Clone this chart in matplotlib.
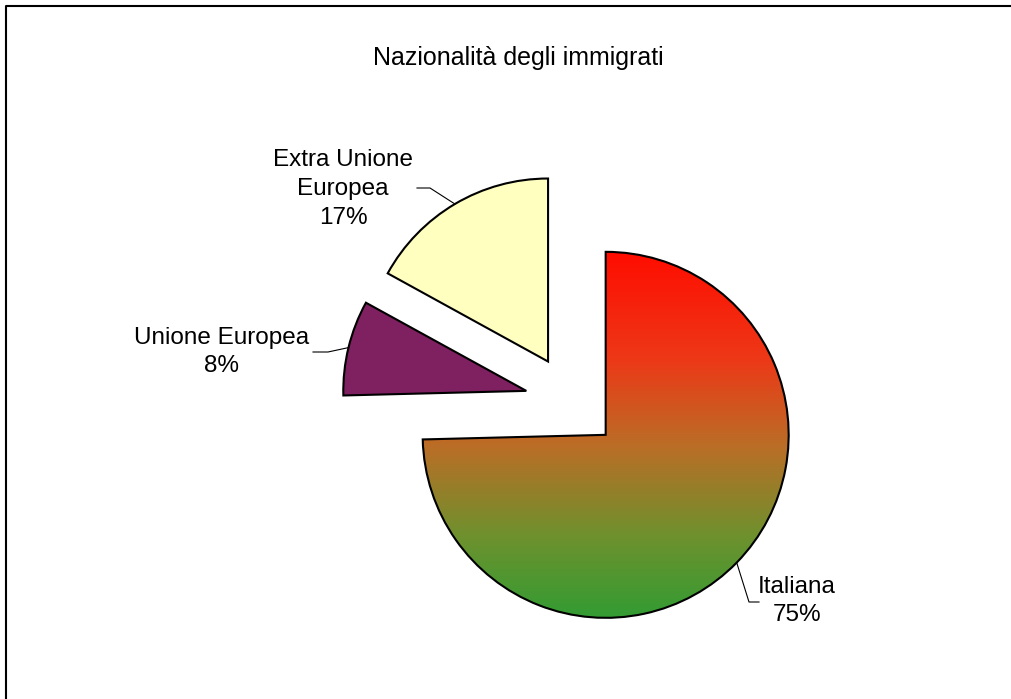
import numpy as np
import matplotlib.pyplot as plt
from matplotlib.colors import LinearSegmentedColormap

# data
labels = ["Italiana", "Unione Europea", "Extra Unione Europea"]
label_text = ["Italiana", "Unione Europea", "Extra Unione\nEuropea"]
values = [74.6, 8.4, 17.0]
title = "Nazionalità degli immigrati"

W, H = 1012, 699
plt.rcParams['font.family'] = ['Liberation Sans', 'DejaVu Sans']

fig = plt.figure(figsize=(W / 100, H / 100), dpi=100)
ax = fig.add_axes([0, 0, 1, 1])

# pie geometry in pixel units (y measured upwards)
R = 183
center = (572, H - 402)
explode = [0.257 * R] * 3

wedges, _ = ax.pie(values, explode=explode, startangle=90, counterclock=False,
                   radius=R, center=center,
                   colors=['none', '#7f2060', '#ffffc0'],
                   wedgeprops=dict(edgecolor='black', linewidth=1.5))
ax.set_xlim(0, W)
ax.set_ylim(0, H)
ax.set_aspect('equal')
ax.axis('off')

# gradient fill for Italiana (red at top -> green at bottom)
grad = LinearSegmentedColormap.from_list('it', [
    (0.00, (1.00, 0.05, 0.00)),
    (0.29, (0.93, 0.22, 0.09)),
    (0.53, (0.73, 0.43, 0.15)),
    (0.78, (0.43, 0.57, 0.18)),
    (1.00, (0.20, 0.61, 0.20)),
])
w0 = wedges[0]
cx, cy = w0.center
img = ax.imshow(np.linspace(0, 1, 256).reshape(-1, 1), cmap=grad, aspect='auto',
                extent=[cx - R, cx + R, cy - R, cy + R], origin='upper', zorder=0.5)
img.set_clip_path(w0)
w0.set_zorder(1)

# labels with leader lines: (text x, text y, elbow x, elbow y, line end x)
label_pos = [(797, 601, 749, 602, 759),
             (222, 352, 328, 352, 313),
             (343, 189, 430, 188, 417)]
total = sum(values)
for w, txt, v, (tx, ty, ex, ey, lx) in zip(wedges, label_text, values, label_pos):
    mid = np.deg2rad((w.theta1 + w.theta2) / 2)
    ax_x = w.center[0] + R * np.cos(mid)
    ax_y = w.center[1] + R * np.sin(mid)
    ax.plot([ax_x, ex, lx], [ax_y, H - ey, H - ey], color='black', lw=0.8, zorder=2)
    ax.text(tx, H - ty, f"{txt}\n{round(v / total * 100)}%", ha='center', va='center',
            fontsize=17.5, linespacing=1.4)

ax.text(518, H - 58, title, ha='center', va='center', fontsize=18)

# chart frame (left and top edges visible)
ax.plot([6, 6, W + 5], [-5, H - 6, H - 6], color='black', lw=1.5, clip_on=False)

fig.savefig("out.png", dpi=100)
